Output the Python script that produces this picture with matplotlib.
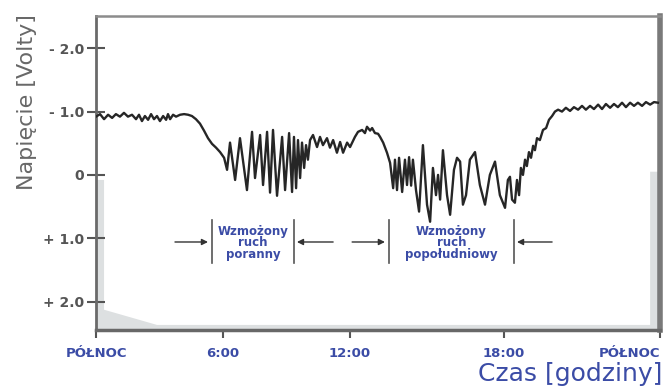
import numpy as np
import matplotlib
matplotlib.use("Agg")
import matplotlib.pyplot as plt

# czas [h] i napiecie [V] (os Y odwrocona: -2.0 u gory)
godziny = [0, 0.19, 0.38, 0.57, 0.76, 0.94, 1.13, 1.32, 1.51, 1.70,
           1.89, 2.03, 2.17, 2.31, 2.46, 2.60, 2.74, 2.88, 3.02, 3.17,
           3.31, 3.40, 3.50, 3.64, 3.78, 3.97, 4.16, 4.35, 4.53, 4.72,
           4.91, 5.10, 5.29, 5.48, 5.67, 5.86, 6.05,
           6.19, 6.33, 6.57, 6.80, 7.13, 7.37, 7.51, 7.75, 7.89, 8.08,
           8.22, 8.36, 8.55, 8.79, 8.93, 9.12, 9.26, 9.35, 9.45, 9.54,
           9.64, 9.73, 9.83, 9.92, 10.01, 10.11, 10.25, 10.44, 10.58, 10.72,
           10.91, 11.05, 11.20, 11.38, 11.53, 11.67, 11.86, 12.00, 12.19, 12.31,
           12.47, 12.58, 12.66, 12.78, 12.86, 12.97, 13.09, 13.17, 13.29, 13.44,
           13.56, 13.68, 13.75, 13.83, 13.91, 14.03, 14.14, 14.22, 14.30, 14.38,
           14.45, 14.57, 14.69, 14.84, 15.00, 15.12, 15.23, 15.35, 15.43, 15.51,
           15.62, 15.78, 15.90, 16.05, 16.17, 16.29, 16.40, 16.52, 16.67, 16.87,
           17.06, 17.26, 17.45, 17.65, 17.84, 18.04, 18.15, 18.23, 18.31, 18.42,
           18.50, 18.58, 18.65, 18.73, 18.81, 18.88, 18.96, 19.04, 19.12, 19.19,
           19.27, 19.38, 19.50, 19.62, 19.73, 19.85, 19.96,
           20.08, 20.23, 20.38, 20.54, 20.69, 20.85, 21.00, 21.15, 21.31, 21.46,
           21.62, 21.77, 21.92, 22.08, 22.23, 22.38, 22.54, 22.69, 22.85, 23.00,
           23.15, 23.31, 23.46, 23.62, 23.77, 23.92]

napiecie = [-0.92, -0.96, -0.88, -0.95, -0.90, -0.96, -0.92, -0.98, -0.92, -0.95,
            -0.88, -0.95, -0.85, -0.93, -0.87, -0.96, -0.88, -0.93, -0.85, -0.93,
            -0.87, -0.96, -0.88, -0.95, -0.92, -0.95, -0.96, -0.95, -0.93, -0.88,
            -0.81, -0.70, -0.58, -0.49, -0.43, -0.36, -0.27,
            -0.08, -0.51, 0.08, -0.58, 0.24, -0.68, 0.05, -0.63, 0.16, -0.68,
            0.28, -0.71, 0.33, -0.60, 0.24, -0.66, 0.27, -0.60, 0.21, -0.55,
            0.05, -0.51, -0.11, -0.47, -0.24, -0.55, -0.63, -0.44, -0.60, -0.47,
            -0.58, -0.43, -0.55, -0.35, -0.52, -0.35, -0.51, -0.44, -0.60, -0.68,
            -0.71, -0.66, -0.76, -0.70, -0.74, -0.66, -0.65, -0.60, -0.51, -0.35,
            -0.19, 0.21, -0.24, 0.24, -0.27, 0.27, -0.24, 0.16, -0.28, 0.17,
            -0.24, 0.24, 0.58, -0.47, 0.47, 0.74, -0.11, 0.32, 0.00, 0.39,
            -0.39, 0.32, 0.63, -0.08, -0.27, -0.21, 0.47, 0.32, -0.24, -0.36,
            0.16, 0.47, 0.00, -0.21, 0.32, 0.52, 0.08, 0.03, 0.39, 0.44,
            0.08, 0.32, -0.11, 0.00, -0.24, -0.14, -0.36, -0.27, -0.46, -0.39,
            -0.58, -0.55, -0.71, -0.74, -0.87, -0.93, -1.00,
            -1.03, -1.00, -1.06, -1.01, -1.07, -1.03, -1.09, -1.03, -1.09, -1.04,
            -1.11, -1.04, -1.12, -1.06, -1.12, -1.07, -1.14, -1.07, -1.14, -1.09,
            -1.14, -1.09, -1.15, -1.11, -1.15, -1.14]

x_ticks = [0, 6, 12, 18, 24]
x_labels = ["PÓŁNOC", "6:00", "12:00", "18:00", "PÓŁNOC"]
y_ticks = [-2, -1, 0, 1, 2]
y_labels = ["- 2.0", "- 1.0", "0", "+ 1.0", "+ 2.0"]

okresy = [(5.48, 9.35), (13.52, 18.38)]
opisy = ["Wzmożony\nruch\nporanny", "Wzmożony\nruch\npopołudniowy"]

# os czasu w oryginale nie jest rowna (popoludnie szersze)
pozycje = [0, 6, 12, 19.27, 26.64]
def fwd(x):
    return np.interp(x, x_ticks, pozycje)
def inv(x):
    return np.interp(x, pozycje, x_ticks)

NIEBIESKI = "#3b4ca6"

fig = plt.figure(figsize=(6.64, 3.89), dpi=100)
ax = fig.add_axes([0.1446, 0.1517, 0.8494, 0.8072])
ax.set_xscale("function", functions=(fwd, inv))
ax.set_xlim(0, 24)
ax.set_ylim(2.45, -2.51)

# szary "cien" przy krawedziach
ax.fill([0, 0.38, 0.38, 2.88, 23.62, 23.62, 24, 24, 0],
        [0.08, 0.08, 2.13, 2.37, 2.37, -0.05, -0.05, 2.45, 2.45],
        color="#dde0e1", lw=0, zorder=1)

ax.plot(godziny, napiecie, color="#262626", lw=1.7, solid_joinstyle="round", zorder=3)

for (a, b), opis in zip(okresy, opisy):
    for xx in (a, b):
        ax.plot([xx, xx], [0.71, 1.39], color="#555555", lw=1.2, zorder=2)
    ax.text((a + b) / 2, 1.07, opis, ha="center", va="center", color=NIEBIESKI,
            fontsize=8.5, fontweight="bold", linespacing=0.85)

strzalki = [(3.73, 5.29), (11.20, 9.49), (12.08, 13.36), (19.85, 18.50)]
for x0, x1 in strzalki:
    ax.annotate("", xy=(x1, 1.06), xytext=(x0, 1.06),
                arrowprops=dict(arrowstyle="-|>", color="#333333", lw=1.0,
                                mutation_scale=9, shrinkA=0, shrinkB=0))

ax.spines["top"].set_color("#8c8c8c")
ax.spines["top"].set_linewidth(1.8)
ax.spines["left"].set_color("#6a6a6a")
ax.spines["left"].set_linewidth(2)
ax.spines["bottom"].set_color("#686868")
ax.spines["bottom"].set_linewidth(2.5)
ax.spines["right"].set_color("#7a7a7a")
ax.spines["right"].set_linewidth(4)

ax.set_yticks(y_ticks)
ax.set_yticklabels(y_labels)
ax.tick_params(axis="y", direction="inout", length=13, width=1.5, color="#555555",
               labelsize=10, labelcolor="#555555", pad=2)
for t in ax.get_yticklabels():
    t.set_fontweight("bold")

ax.set_xticks(x_ticks)
ax.set_xticklabels(x_labels)
ax.tick_params(axis="x", direction="out", length=6, width=1.5, color="#555555",
               labelsize=9.5, labelcolor=NIEBIESKI, pad=6)
xl = ax.get_xticklabels()
for t in xl:
    t.set_fontweight("bold")
xl[-1].set_horizontalalignment("right")

fig.text(0.041, 0.738, "Napięcie [Volty]", rotation=90, ha="center", va="center",
         fontsize=16, color="#686868")
fig.text(0.997, 0.038, "Czas [godziny]", ha="right", va="center",
         fontsize=18, color=NIEBIESKI)

fig.savefig("out.png", dpi=100)
